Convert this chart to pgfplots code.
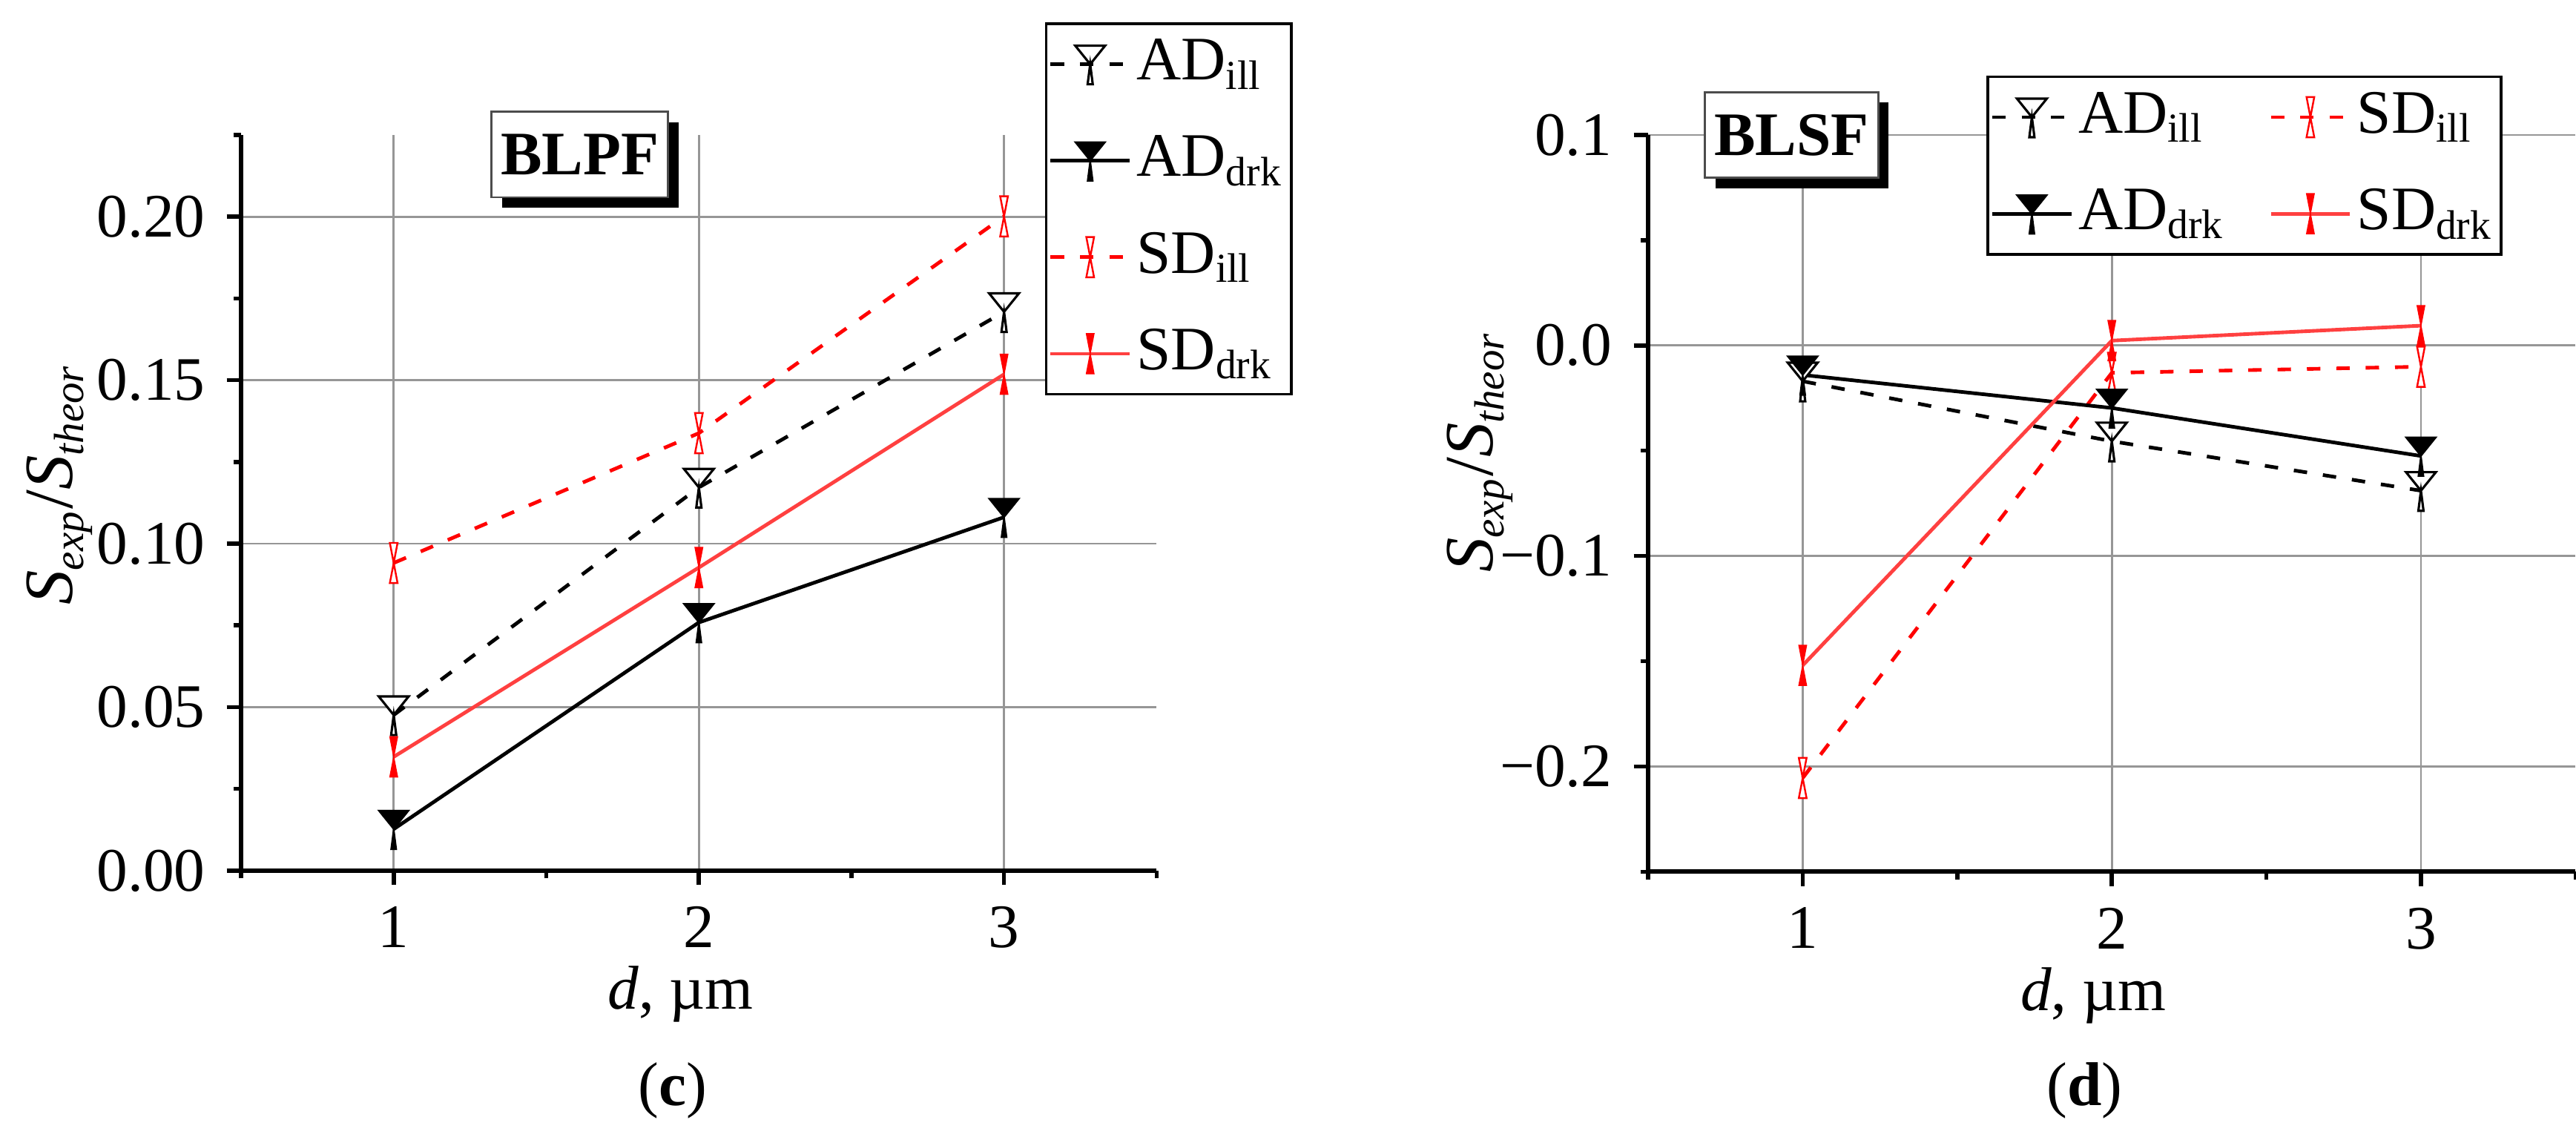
\documentclass[12pt,border=0pt]{standalone}
\usepackage{fontspec}
\setmainfont{Liberation Serif}
\usepackage{pgfplots}
\pgfplotsset{compat=1.18}
\usetikzlibrary{shadows}

\definecolor{sdred}{RGB}{255,0,0}
\definecolor{sdlight}{RGB}{255,64,64}
\definecolor{gridgray}{RGB}{150,150,150}

\pgfdeclareplotmark{adtri}{%
  \pgfpathmoveto{\pgfqpoint{-2.9pt}{3.6pt}}%
  \pgfpathlineto{\pgfqpoint{2.9pt}{3.6pt}}%
  \pgfpathlineto{\pgfqpoint{0pt}{0pt}}%
  \pgfpathclose
  \pgfpathmoveto{\pgfqpoint{-0.5pt}{-3.9pt}}%
  \pgfpathlineto{\pgfqpoint{0.5pt}{-3.9pt}}%
  \pgfpathlineto{\pgfqpoint{0pt}{0pt}}%
  \pgfpathclose
  \pgfusepathqfillstroke
}
\pgfdeclareplotmark{sdhour}{%
  \pgfpathmoveto{\pgfqpoint{-0.75pt}{3.9pt}}%
  \pgfpathlineto{\pgfqpoint{0.75pt}{3.9pt}}%
  \pgfpathlineto{\pgfqpoint{0pt}{0pt}}%
  \pgfpathclose
  \pgfpathmoveto{\pgfqpoint{-0.75pt}{-3.9pt}}%
  \pgfpathlineto{\pgfqpoint{0.75pt}{-3.9pt}}%
  \pgfpathlineto{\pgfqpoint{0pt}{0pt}}%
  \pgfpathclose
  \pgfusepathqfillstroke
}

\pgfplotsset{
  myaxis/.style={
    scale only axis, xmin=0.5, xmax=3.5,
    axis x line*=bottom, axis y line*=left,
    axis line style={line width=0.9pt, -},
    xtick={1,2,3}, xticklabels={1,2,3},
    minor xtick={0.5,1.5,2.5,3.5},
    tick align=outside,
    major tick length=2.8pt, minor tick length=1.5pt,
    tick style={black, line width=0.8pt},
    grid=major,
    major grid style={gridgray, line width=0.4pt},
    clip=false,
    xlabel={\textit{d}, µm},
    xlabel style={at={(axis description cs:0.48,0)}, anchor=center, yshift=-24pt},
    legend cell align=left,
    legend style={draw=black, line width=0.5pt, fill=white, inner xsep=0.5pt, inner ysep=1pt,
      nodes={inner xsep=1pt}, row sep=5pt},
    legend image code/.code={\draw[mark repeat=2,mark phase=2] plot coordinates {(0cm,0cm) (0.27cm,0cm) (0.54cm,0cm)};},
  },
  adill/.style={black, dash pattern=on 2.6pt off 3.1pt, line width=0.7pt, mark=adtri, mark options={solid, fill=white, draw=black, line width=0.45pt}},
  addrk/.style={black, solid, line width=0.7pt, mark=adtri, mark options={solid, fill=black, draw=black, line width=0.3pt}},
  sdill/.style={sdred, dash pattern=on 2.6pt off 3.1pt, line width=0.7pt, mark=sdhour, mark options={solid, fill=white, draw=sdred, line width=0.35pt}},
  sddrk/.style={sdlight, solid, line width=0.7pt, mark=sdhour, mark options={solid, fill=sdred, draw=sdred, line width=0.2pt}},
}
\tikzset{boxlab/.style={draw=black!70, line width=0.4pt, fill=white, font=\bfseries, inner xsep=1.8pt, minimum height=16.6pt, drop shadow={shadow xshift=2pt, shadow yshift=-2pt, opacity=1, fill=black}}}

\newcommand{\sub}[1]{\textsubscript{\fontsize{8.2}{9}\selectfont\textit{#1}}}
\newcommand{\ylab}{{\fontsize{13.4}{16}\selectfont\textit{S}\sub{exp}/\textit{S}\sub{theor}}}

\begin{document}
\begin{tikzpicture}
\useasboundingbox (0,0) rectangle (500pt,220pt);

% ---------- (c) BLPF ----------
\begin{axis}[myaxis,
  at={(46.8pt,51pt)}, anchor=south west,
  width=177.7pt, height=142.8pt,
  ymin=0, ymax=0.225,
  ytick={0,0.05,0.1,0.15,0.2}, yticklabels={0.00,0.05,0.10,0.15,0.20},
  minor ytick={0.025,0.075,0.125,0.175,0.225},
  ylabel={\ylab},
  ylabel style={at={(axis description cs:0,0.5)}, anchor=base, xshift=3.6pt, yshift=32.7pt},
  legend style={at={(0.878,1.153)}, anchor=north west},
]
\addplot[adill] coordinates {(1,0.0476) (2,0.1172) (3,0.1709)};
\addlegendentry{AD\textsubscript{ill}}
\addplot[addrk] coordinates {(1,0.0127) (2,0.0759) (3,0.1081)};
\addlegendentry{AD\textsubscript{drk}}
\addplot[sdill] coordinates {(1,0.0941) (2,0.1338) (3,0.2001)};
\addlegendentry{SD\textsubscript{ill}}
\addplot[sddrk] coordinates {(1,0.0348) (2,0.0927) (3,0.1518)};
\addlegendentry{SD\textsubscript{drk}}
\node[boxlab] at (axis cs:1.61,0.219) {BLPF};
\end{axis}

% ---------- (d) BLSF ----------
\begin{axis}[myaxis,
  at={(319.9pt,50.8pt)}, anchor=south west,
  width=180pt, height=143pt,
  ymin=-0.25, ymax=0.1,
  ytick={-0.2,-0.1,0,0.1}, yticklabels={−0.2,−0.1,0.0,0.1},
  minor ytick={-0.25,-0.15,-0.05,0.05},
  ylabel={\ylab},
  ylabel style={at={(axis description cs:0,0.5)}, anchor=base, xshift=10pt, yshift=30.1pt},
  legend columns=2,
  legend style={at={(0.365,1.081)}, anchor=north west,
    /tikz/every even column/.append style={column sep=7.5pt}},
]
\addplot[adill] coordinates {(1,-0.017) (2,-0.0455) (3,-0.069)};
\addlegendentry{AD\textsubscript{ill}}
\addplot[sdill] coordinates {(1,-0.2055) (2,-0.013) (3,-0.0101)};
\addlegendentry{SD\textsubscript{ill}}
\addplot[addrk] coordinates {(1,-0.014) (2,-0.0297) (3,-0.0525)};
\addlegendentry{AD\textsubscript{drk}}
\addplot[sddrk] coordinates {(1,-0.152) (2,0.0023) (3,0.0094)};
\addlegendentry{SD\textsubscript{drk}}
\node[boxlab] at (axis cs:0.964,0.100) {BLSF};
\end{axis}

\node at (130.6pt,8.3pt) {(\textbf{c})};
\node at (404.6pt,8.3pt) {(\textbf{d})};
\end{tikzpicture}
\end{document}
